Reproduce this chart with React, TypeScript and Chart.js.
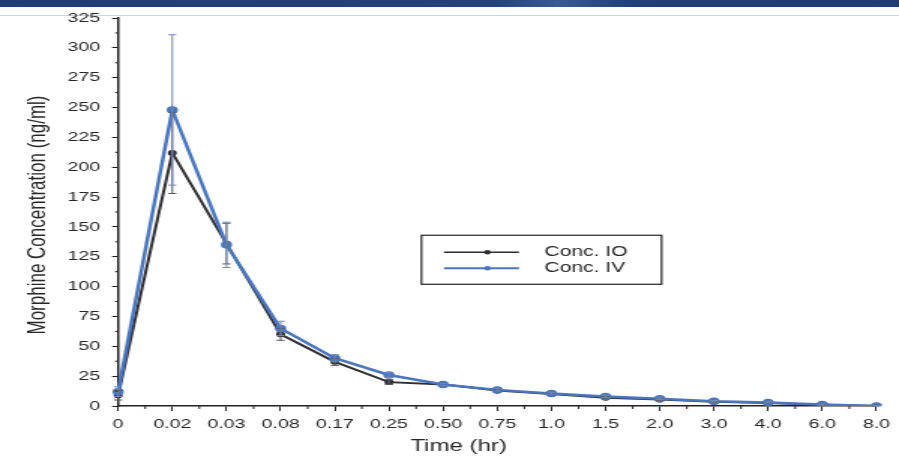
import React, { useEffect, useRef } from "react";
import { Chart, registerables } from "chart.js";

Chart.register(...registerables);

const timeLabels = ["0", "0.02", "0.03", "0.08", "0.17", "0.25", "0.50", "0.75", "1.0", "1.5", "2.0", "3.0", "4.0", "6.0", "8.0"];
const concIO = [9, 212, 136, 60, 37, 20, 18, 13, 10, 7, 5.5, 3.6, 2.5, 1, 0];
const concIV = [12, 248, 135, 65, 40, 26, 18, 13.5, 10.5, 8, 6, 4, 3, 1.2, 0];
const errIO = [4, 34, 17, 5, 3, 2, 1, 1, 1, 1, 0.7, 0.6, 0.5, 0.5, 0.5];
const errIV = [4, 63, 19, 6, 3, 2, 1, 1, 1, 1, 0.7, 0.6, 0.5, 0.5, 0.5];
const seriesNames = ["Conc. IO", "Conc. IV"];
const yTitle = "Morphine Concentration (ng/ml)";
const xTitle = "Time (hr)";

const IO_COLOR = "#2f2f33";
const IV_COLOR = "#4a76c0";
const TEXT = "#262626";
const FONT = "'Liberation Sans', Arial, sans-serif";

// the figure is drawn narrow and stretched horizontally, like the source slide
const CW = 599;
const CH = 456;

const errorBarPlugin = {
  id: "errorBars",
  afterDatasetsDraw(chart: any) {
    const { ctx, scales } = chart;
    const x = scales.x;
    const y = scales.y;
    const sets = [
      { v: concIO, e: errIO, c: "#55585f" },
      { v: concIV, e: errIV, c: "#7489b5" },
    ];
    ctx.save();
    ctx.lineWidth = 1;
    sets.forEach((s) => {
      ctx.strokeStyle = s.c;
      s.v.forEach((val, i) => {
        const px = x.getPixelForValue(i);
        const top = y.getPixelForValue(val + s.e[i]);
        const bot = y.getPixelForValue(Math.max(0, val - s.e[i]));
        ctx.beginPath();
        ctx.moveTo(px, top);
        ctx.lineTo(px, bot);
        ctx.moveTo(px - 2.7, top);
        ctx.lineTo(px + 2.7, top);
        ctx.moveTo(px - 2.7, bot);
        ctx.lineTo(px + 2.7, bot);
        ctx.stroke();
      });
    });
    ctx.restore();
  },
};

const decorPlugin = {
  id: "decor",
  afterDraw(chart: any) {
    const { ctx, scales, chartArea } = chart;
    const x = scales.x;
    const y = scales.y;
    ctx.save();
    // minor ticks
    ctx.strokeStyle = "#222";
    ctx.lineWidth = 1;
    ctx.beginPath();
    for (let i = 0; i < timeLabels.length - 1; i++) {
      const px = (x.getPixelForValue(i) + x.getPixelForValue(i + 1)) / 2;
      ctx.moveTo(px, chartArea.bottom);
      ctx.lineTo(px, chartArea.bottom + 3);
    }
    for (let v = 12.5; v < 325; v += 25) {
      const py = y.getPixelForValue(v);
      ctx.moveTo(chartArea.left - 2, py);
      ctx.lineTo(chartArea.left, py);
    }
    ctx.stroke();

    // y title
    ctx.save();
    ctx.translate(25.8, (chartArea.top + chartArea.bottom) / 2 + 3);
    ctx.rotate(-Math.PI / 2);
    ctx.font = "17px " + FONT;
    ctx.fillStyle = TEXT;
    ctx.textAlign = "center";
    ctx.textBaseline = "middle";
    ctx.fillText(yTitle, 0, 0);
    ctx.restore();

    // x title (sits left of the axis centre in the source)
    ctx.font = "16px " + FONT;
    ctx.fillStyle = TEXT;
    ctx.textAlign = "center";
    ctx.textBaseline = "middle";
    ctx.fillText(xTitle, chartArea.left + (chartArea.right - chartArea.left) * 0.449, chartArea.bottom + 41);

    // legend box
    const w = chartArea.right - chartArea.left;
    const h = chartArea.bottom - chartArea.top;
    const bx = chartArea.left + w * 0.4;
    const by = chartArea.top + h * 0.56;
    const bw = 160;
    const bh = 49;
    ctx.strokeStyle = "#333";
    ctx.lineWidth = 1.3;
    ctx.strokeRect(bx, by, bw, bh);
    const colors = [IO_COLOR, IV_COLOR];
    ctx.font = "14px " + FONT;
    ctx.textAlign = "left";
    ctx.textBaseline = "middle";
    seriesNames.forEach((name, i) => {
      const ly = by + 17 + i * 16;
      ctx.strokeStyle = colors[i];
      ctx.lineWidth = i === 0 ? 1.5 : 2;
      ctx.beginPath();
      ctx.moveTo(bx + 15, ly);
      ctx.lineTo(bx + 65, ly);
      ctx.stroke();
      ctx.fillStyle = colors[i];
      ctx.beginPath();
      ctx.arc(bx + 44, ly, 2.2, 0, Math.PI * 2);
      ctx.fill();
      ctx.fillStyle = TEXT;
      ctx.fillText(name, bx + 82, ly);
    });
    ctx.restore();
  },
};

export default function App() {
  const ref = useRef<HTMLCanvasElement | null>(null);

  useEffect(() => {
    if (!ref.current) return;
    const chart = new Chart(ref.current, {
      type: "line",
      data: {
        labels: timeLabels,
        datasets: [
          {
            label: seriesNames[0],
            data: concIO,
            borderColor: IO_COLOR,
            backgroundColor: IO_COLOR,
            borderWidth: 2,
            pointRadius: 2,
            pointBackgroundColor: "#555",
            pointBorderColor: IO_COLOR,
            tension: 0,
            order: 2,
          },
          {
            label: seriesNames[1],
            data: concIV,
            borderColor: IV_COLOR,
            backgroundColor: IV_COLOR,
            borderWidth: 2.5,
            pointRadius: 2.5,
            pointBackgroundColor: IV_COLOR,
            pointBorderColor: IV_COLOR,
            tension: 0,
            order: 1,
          },
        ],
      },
      options: {
        responsive: false,
        animation: false,
        devicePixelRatio: 1,
        layout: { padding: { top: 18, right: 15, bottom: 0, left: 0 } },
        plugins: {
          legend: { display: false },
          tooltip: { enabled: false },
        },
        scales: {
          x: {
            type: "category",
            offset: false,
            border: { display: true, color: "#222", width: 1.5 },
            grid: { drawOnChartArea: false, drawTicks: true, tickLength: 5, color: "#222", lineWidth: 1 },
            ticks: { color: TEXT, font: { family: FONT, size: 13 }, padding: 6, maxRotation: 0, autoSkip: false },
            title: { display: false, text: xTitle },
            afterFit: (scale: any) => {
              scale.height = 50;
            },
          },
          y: {
            min: 0,
            max: 325,
            border: { display: true, color: "#222", width: 1.5 },
            grid: { drawOnChartArea: false, drawTicks: true, tickLength: 4, color: "#222", lineWidth: 1 },
            ticks: { stepSize: 25, color: TEXT, font: { family: FONT, size: 13 }, padding: 8 },
            title: { display: false, text: yTitle },
            afterFit: (scale: any) => {
              scale.width = 78.7;
            },
          },
        },
      },
      plugins: [errorBarPlugin, decorPlugin],
    });
    return () => chart.destroy();
  }, []);

  return (
    <div style={{ position: "fixed", left: 0, top: 0, width: 899, height: 456, background: "#fff", overflow: "hidden" }}>
      <div style={{ position: "absolute", left: 0, top: 0, width: 899, height: 7, background: "linear-gradient(90deg, #1d3c78 0%, #22427e 55%, #3a5a92 62%, #1f3f7a 70%, #1d3c78 100%)" }} />
      <div style={{ position: "absolute", left: 0, top: 15, width: 899, height: 1, background: "#cfd3dc" }} />
      <canvas ref={ref} width={CW} height={CH} style={{ position: "absolute", left: 0, top: 0, width: 899, height: CH, display: "block" }} />
    </div>
  );
}
